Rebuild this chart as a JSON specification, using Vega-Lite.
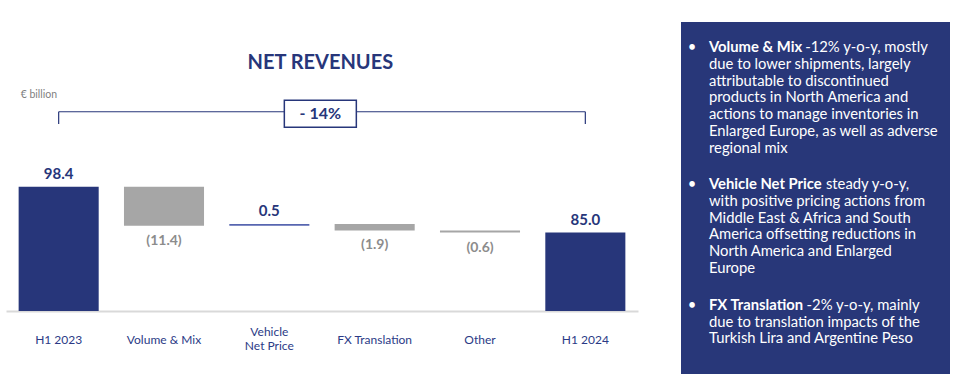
{
  "$schema": "https://vega.github.io/schema/vega-lite/v6.json",
  "background": "white",
  "padding": {"left": 6, "top": 22, "right": 0, "bottom": 0},
  "spacing": 43,
  "bounds": "flush",
  "config": {"view": {"stroke": null}, "font": "Lato"},
  "datasets": {
    "bars": [
      {"cat": "H1 2023", "start": 0, "end": 98.4, "kind": "total", "label": "98.4"},
      {"cat": "Volume & Mix", "start": 98.4, "end": 87.0, "kind": "neg", "label": "(11.4)"},
      {"cat": "Vehicle Net Price", "start": 87.0, "end": 87.5, "kind": "pos", "label": "0.5"},
      {"cat": "FX Translation", "start": 87.5, "end": 85.6, "kind": "neg", "label": "(1.9)"},
      {"cat": "Other", "start": 85.6, "end": 85.0, "kind": "neg", "label": "(0.6)"},
      {"cat": "H1 2024", "start": 0, "end": 85.0, "kind": "total", "label": "85.0"}
    ],
    "notes": [
      {"line": 0, "kind": "bullet", "text": "•"},
      {"line": 0, "kind": "head", "text": "Volume & Mix"},
      {"line": 0, "kind": "tail", "indent": 6.66, "text": "-12% y-o-y, mostly"},
      {"line": 1, "kind": "body", "text": "due to lower shipments, largely"},
      {"line": 2, "kind": "body", "text": "attributable to discontinued"},
      {"line": 3, "kind": "body", "text": "products in North America and"},
      {"line": 4, "kind": "body", "text": "actions to manage inventories in"},
      {"line": 5, "kind": "body", "text": "Enlarged Europe, as well as adverse"},
      {"line": 6, "kind": "body", "text": "regional mix"},
      {"line": 8.18, "kind": "bullet", "text": "•"},
      {"line": 8.18, "kind": "head", "text": "Vehicle Net Price"},
      {"line": 8.18, "kind": "tail", "indent": 7.88, "text": "steady y-o-y,"},
      {"line": 9.18, "kind": "body", "text": "with positive pricing actions from"},
      {"line": 10.18, "kind": "body", "text": "Middle East & Africa and South"},
      {"line": 11.18, "kind": "body", "text": "America offsetting reductions in"},
      {"line": 12.18, "kind": "body", "text": "North America and Enlarged"},
      {"line": 13.18, "kind": "body", "text": "Europe"},
      {"line": 15.39, "kind": "bullet", "text": "•"},
      {"line": 15.39, "kind": "head", "text": "FX Translation"},
      {"line": 15.39, "kind": "tail", "indent": 6.74, "text": "-2% y-o-y, mainly"},
      {"line": 16.39, "kind": "body", "text": "due to translation impacts of the"},
      {"line": 17.39, "kind": "body", "text": "Turkish Lira and Argentine Peso"}
    ]
  },
  "hconcat": [
    {
      "width": 632,
      "height": 289,
      "layer": [
        {
          "data": {"name": "bars"},
          "mark": {"type": "bar", "clip": true},
          "encoding": {
            "x": {
              "field": "cat", "type": "nominal",
              "scale": {"domain": ["H1 2023", "Volume & Mix", "Vehicle Net Price", "FX Translation", "Other", "H1 2024"], "paddingInner": 0.24, "paddingOuter": 0.12},
              "axis": {
                "title": null, "domainColor": "#d9d9d9", "domainWidth": 2, "ticks": false, "tickSize": 0,
                "labelPadding": {"condition": {"test": "datum.value == 'Vehicle Net Price'", "value": 20}, "value": 28},
                "labelBaseline": "middle", "labelColor": "#2b3a86", "labelFontSize": 12,
                "labelFont": "Lato", "labelAngle": 0, "labelLineHeight": 14.5,
                "labelExpr": "datum.value == 'Vehicle Net Price' ? ['Vehicle', 'Net Price'] : datum.value"
              }
            },
            "y": {"field": "start", "type": "quantitative", "scale": {"domain": [62, 146.7], "zero": false, "nice": false}, "axis": null},
            "y2": {"field": "end"},
            "color": {"field": "kind", "type": "nominal", "scale": {"domain": ["total", "neg", "pos"], "range": ["#27367a", "#a6a6a6", "#5766b0"]}, "legend": null}
          }
        },
        {
          "data": {"name": "bars"},
          "transform": [{"filter": "datum.kind != 'neg'"}],
          "mark": {"type": "text", "fontWeight": "bold", "fontSize": 15, "dy": -13, "baseline": "middle", "color": "#27367a"},
          "encoding": {
            "x": {"field": "cat", "type": "nominal"},
            "y": {"field": "end", "type": "quantitative"},
            "text": {"field": "label"}
          }
        },
        {
          "data": {"name": "bars"},
          "transform": [{"filter": "datum.kind == 'neg'"}],
          "mark": {"type": "text", "fontWeight": "bold", "fontSize": 14, "dy": 15, "baseline": "middle", "color": "#8c8c8c"},
          "encoding": {
            "x": {"field": "cat", "type": "nominal"},
            "y": {"field": "end", "type": "quantitative"},
            "text": {"field": "label"}
          }
        },
        {
          "data": {"values": [{}]},
          "mark": {"type": "rule", "color": "#27367a", "strokeWidth": 1.2},
          "encoding": {
            "x": {"datum": "H1 2023", "type": "nominal"},
            "x2": {"datum": "H1 2024"},
            "y": {"datum": 120.4, "type": "quantitative"}
          }
        },
        {
          "data": {"values": [{"cat": "H1 2023"}, {"cat": "H1 2024"}]},
          "mark": {"type": "rule", "color": "#27367a", "strokeWidth": 1.2},
          "encoding": {
            "x": {"field": "cat", "type": "nominal"},
            "y": {"datum": 116.8, "type": "quantitative"},
            "y2": {"datum": 120.4}
          }
        },
        {
          "data": {"values": [{}]},
          "mark": {"type": "point", "shape": "M-1,-0.375H1V0.375H-1Z", "size": 5184, "filled": true, "fill": "white", "stroke": "#27367a", "strokeWidth": 1.5, "opacity": 1, "xOffset": 51},
          "encoding": {
            "x": {"datum": "Vehicle Net Price", "type": "nominal"},
            "y": {"datum": 119.8, "type": "quantitative"}
          }
        },
        {
          "data": {"values": [{}]},
          "mark": {"type": "text", "text": "- 14%", "fontWeight": "bold", "fontSize": 16, "color": "#27367a", "baseline": "middle", "xOffset": 51},
          "encoding": {
            "x": {"datum": "Vehicle Net Price", "type": "nominal"},
            "y": {"datum": 119.8, "type": "quantitative"}
          }
        },
        {
          "data": {"values": [{}]},
          "mark": {"type": "text", "text": "NET REVENUES", "fontWeight": "bold", "fontSize": 20, "color": "#27367a", "baseline": "middle", "xOffset": 51},
          "encoding": {
            "x": {"datum": "Vehicle Net Price", "type": "nominal"},
            "y": {"datum": 134.8, "type": "quantitative"}
          }
        },
        {
          "data": {"values": [{}]},
          "mark": {"type": "text", "text": "€ billion", "fontSize": 10.5, "color": "#7f7f7f", "baseline": "middle", "align": "left", "xOffset": -38},
          "encoding": {
            "x": {"datum": "H1 2023", "type": "nominal"},
            "y": {"datum": 125.3, "type": "quantitative"}
          }
        }
      ]
    },
    {
      "width": 269,
      "height": 352,
      "view": {"fill": "#283779", "stroke": null},
      "data": {"name": "notes"},
      "encoding": {
        "y": {"field": "line", "type": "quantitative", "scale": {"domain": [-1.552, 19.46], "reverse": true, "zero": false, "nice": false}, "axis": null}
      },
      "layer": [
        {
          "transform": [{"filter": "datum.kind == 'bullet'"}],
          "mark": {"type": "text", "color": "white", "fontSize": 14.8, "baseline": "middle", "align": "center"},
          "encoding": {
            "x": {"datum": 0, "type": "quantitative", "scale": {"domain": [-0.647, 15.18], "zero": false, "nice": false}, "axis": null},
            "text": {"field": "text"}
          }
        },
        {
          "transform": [{"filter": "datum.kind == 'head'"}],
          "mark": {"type": "text", "color": "white", "fontSize": 14.8, "fontWeight": "bold", "baseline": "middle", "align": "left"},
          "encoding": {
            "x": {"datum": 1, "type": "quantitative"},
            "text": {"field": "text"}
          }
        },
        {
          "transform": [{"filter": "datum.kind == 'body'"}],
          "mark": {"type": "text", "color": "white", "fontSize": 14.8, "baseline": "middle", "align": "left"},
          "encoding": {
            "x": {"datum": 1, "type": "quantitative"},
            "text": {"field": "text"}
          }
        },
        {
          "transform": [{"filter": "datum.kind == 'tail'"}],
          "mark": {"type": "text", "color": "white", "fontSize": 14.8, "baseline": "middle", "align": "left"},
          "encoding": {
            "x": {"field": "indent", "type": "quantitative"},
            "text": {"field": "text"}
          }
        }
      ]
    }
  ]
}
